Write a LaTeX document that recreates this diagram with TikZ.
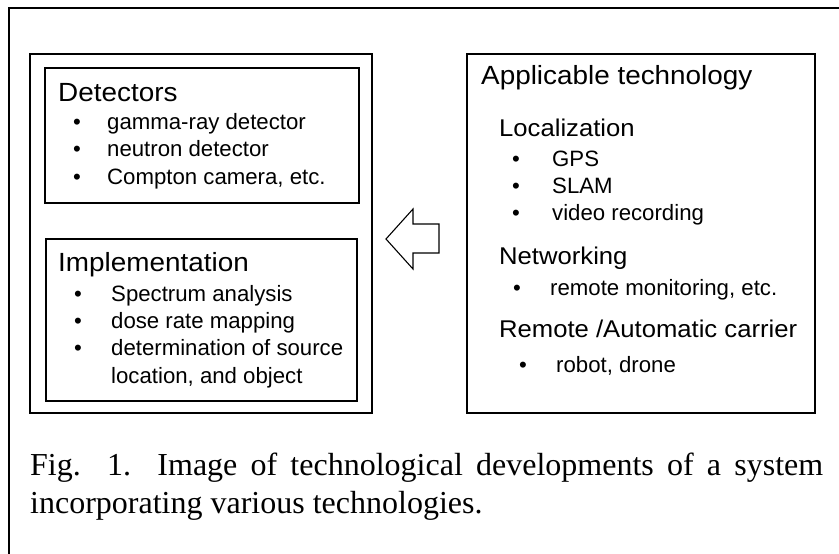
\documentclass[tikz,border=0pt]{standalone}
\usepackage{fontspec}
\setmainfont{Liberation Serif}
\newfontfamily\itemfont{Liberation Sans}
\newfontfamily\headfont{Liberation Sans}[FakeStretch=1.06]
\usepackage{tikz}
\usetikzlibrary{positioning}
\tikzset{
    panel/.style={rectangle, draw, line width=1.1pt, inner sep=0pt},
    head/.style={anchor=base west, inner sep=0pt, font=\headfont\fontsize{26.3}{31}\selectfont},
    subhead/.style={anchor=base west, inner sep=0pt, font=\headfont\fontsize{24.2}{29}\selectfont},
    entry/.style={anchor=base west, inner sep=0pt, font=\itemfont\fontsize{22.2}{27}\selectfont},
    dot/.style={anchor=base, inner sep=0pt, font=\itemfont\fontsize{22.2}{27}\selectfont},
    blockarrow/.style={draw, line width=1.1pt, fill=white},
    caption/.style={anchor=base west, inner sep=0pt, text width=793pt, align=justify, font=\fontsize{32}{38}\selectfont}
}

\begin{document}
\begin{tikzpicture}[x=1pt, y=-1pt]
    \useasboundingbox (0,0) rectangle (839,554);

    % Frame
    \draw[line width=1.2pt] (839,8) -- (9,8) -- (9,554);

    % Left group
    \node[panel, minimum width=342pt, minimum height=359pt] (system) at (201,233.5) {};
    \node[panel, minimum width=314pt, minimum height=135pt] (detectors) at (202,135.5) {};
    \node[panel, minimum width=311pt, minimum height=162pt] (implementation) at (201.5,320) {};

    % Detectors
    \node[head] (det_head) at (58,101.5) {Detectors};
    \node[dot] at (77,129) {•};
    \node[entry] (det_gamma) at (107,129) {gamma-ray detector};
    \node[dot] at (77,156.5) {•};
    \node[entry] (det_neutron) at (107,156.5) {neutron detector};
    \node[dot] at (77,184) {•};
    \node[entry] (det_compton) at (107,184) {Compton camera, etc.};

    % Implementation
    \node[head] (imp_head) at (58,271) {Implementation};
    \node[dot] at (78,301) {•};
    \node[entry] (imp_spectrum) at (111,301) {Spectrum analysis};
    \node[dot] at (78,328.3) {•};
    \node[entry] (imp_dose) at (111,328.3) {dose rate mapping};
    \node[dot] at (78,355.5) {•};
    \node[entry] (imp_source) at (111,355.5) {determination of source};
    \node[entry] (imp_object) at (111,383) {location, and object};

    % Applicable technology
    \node[panel, minimum width=348pt, minimum height=359pt] (technology) at (641,233.5) {};
    \node[head] (tech_head) at (481,84) {Applicable technology};
    \node[subhead] (loc_head) at (499,136) {Localization};
    \node[dot] at (516,166) {•};
    \node[entry] (loc_gps) at (552,166) {GPS};
    \node[dot] at (516,193) {•};
    \node[entry] (loc_slam) at (552,193) {SLAM};
    \node[dot] at (516,220) {•};
    \node[entry] (loc_video) at (552,220) {video recording};
    \node[subhead] (net_head) at (499,264) {Networking};
    \node[dot] at (517,295) {•};
    \node[entry] (net_remote) at (550,295) {remote monitoring, etc.};
    \node[subhead] (car_head) at (499,337) {Remote /Automatic carrier};
    \node[dot] at (523,372) {•};
    \node[entry] (car_robot) at (556,372) {robot, drone};

    % Block arrow
    \coordinate (tip) at (386,239);
    \draw[blockarrow] (tip) -- ++(27,-30) -- ++(0,15) -- ++(26,0) -- ++(0,29)
        -- ++(-26,0) -- ++(0,16) -- cycle;

    % Caption
    \node[caption] (fig_caption) at (30,475) {Fig. 1. Image of technological developments of a system\linebreak incorporating various technologies.};
\end{tikzpicture}
\end{document}
